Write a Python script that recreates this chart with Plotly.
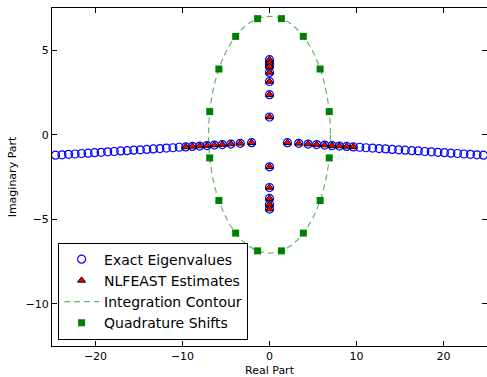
import plotly.graph_objects as go

# Exact eigenvalues (real, imaginary)
eig_real = [-24.6, -23.85, -23.1, -22.35, -21.6, -20.85, -20.1, -19.35, -18.6, -17.85,
            -17.1, -16.35, -15.6, -14.85, -14.1, -13.35, -12.6, -11.85, -11.1, -10.37,
            -9.63, -8.86, -8.03, -7.19, -6.34, -5.42, -4.44, -3.36, -2.06,
            2.06, 3.36, 4.44, 5.42, 6.34, 7.19, 8.03, 8.86, 9.63,
            10.37, 11.1, 11.85, 12.6, 13.35, 14.1, 14.85, 15.6, 16.35, 17.1,
            17.85, 18.6, 19.35, 20.1, 20.85, 21.6, 22.35, 23.1, 23.85, 24.6,
            0, 0, 0, 0, 0, 0, 0, 0, 0, 0, 0, 0]
eig_imag = [-1.21, -1.19, -1.16, -1.14, -1.11, -1.09, -1.06, -1.04, -1.01, -0.99,
            -0.96, -0.94, -0.91, -0.89, -0.87, -0.84, -0.82, -0.79, -0.77, -0.74,
            -0.72, -0.69, -0.67, -0.64, -0.61, -0.58, -0.55, -0.51, -0.47,
            -0.47, -0.51, -0.55, -0.58, -0.61, -0.64, -0.67, -0.69, -0.72,
            -0.74, -0.77, -0.79, -0.82, -0.84, -0.87, -0.89, -0.91, -0.94, -0.96,
            -0.99, -1.01, -1.04, -1.06, -1.09, -1.11, -1.14, -1.16, -1.19, -1.21,
            4.44, 4.24, 4.04, 3.69, 3.15, 2.37, 1.05, -1.9, -3.12, -3.77, -4.12, -4.4]

# NLFEAST estimates
est_real = [-9.63, -8.86, -8.03, -7.19, -6.34, -5.42, -4.44, -3.36, -2.06,
            2.06, 3.36, 4.44, 5.42, 6.34, 7.19, 8.03, 8.86, 9.63,
            0, 0, 0, 0, 0, 0, 0, 0, 0, 0, 0, 0]
est_imag = [-0.72, -0.69, -0.67, -0.64, -0.61, -0.58, -0.55, -0.51, -0.47,
            -0.47, -0.51, -0.55, -0.58, -0.61, -0.64, -0.67, -0.69, -0.72,
            4.44, 4.24, 4.04, 3.69, 3.15, 2.37, 1.05, -1.9, -3.12, -3.77, -4.12, -4.4]

# Integration contour (circle)
contour_center = (0.0, 0.0)
contour_radius = 7.0

# Quadrature shifts
quad_real = [6.87, 5.82, 3.89, 1.37, -1.37, -3.89, -5.82, -6.87,
             -6.87, -5.82, -3.89, -1.37, 1.37, 3.89, 5.82, 6.87]
quad_imag = [1.37, 3.89, 5.82, 6.87, 6.87, 5.82, 3.89, 1.37,
             -1.37, -3.89, -5.82, -6.87, -6.87, -5.82, -3.89, -1.37]

x_ticks = [-20, -10, 0, 10, 20]
y_ticks = [-10, -5, 0, 5]

FONT = "DejaVu Sans"
GREEN = "#008000"
CONTOUR_COLOR = "rgba(0,128,0,0.6)"

fig = go.Figure()
fig.add_trace(go.Scatter(
    x=eig_real, y=eig_imag, mode="markers", name="Exact Eigenvalues",
    marker=dict(symbol="circle-open", size=8, color="#0000ff", line=dict(width=1.2, color="#0000ff")),
))
fig.add_trace(go.Scatter(
    x=est_real, y=est_imag, mode="markers", name="NLFEAST Estimates",
    marker=dict(symbol="triangle-up", size=7, color="#ff0000", line=dict(width=1, color="black")),
))
fig.add_trace(go.Scatter(
    x=[None], y=[None], mode="lines", name="Integration Contour",
    line=dict(color=CONTOUR_COLOR, width=1.2, dash="6px,4px"),
))
fig.add_trace(go.Scatter(
    x=quad_real, y=quad_imag, mode="markers", name="Quadrature Shifts",
    marker=dict(symbol="square", size=7, color=GREEN, line=dict(width=0)),
))

cx, cy = contour_center
fig.add_shape(type="circle", xref="x", yref="y",
              x0=cx - contour_radius, x1=cx + contour_radius,
              y0=cy - contour_radius, y1=cy + contour_radius,
              line=dict(color=CONTOUR_COLOR, width=1.2, dash="6px,4px"),
              layer="below")

axis_common = dict(
    showgrid=False, zeroline=False, showline=True, linecolor="black", linewidth=1,
    mirror="ticks", ticks="inside", ticklen=5, tickcolor="black", tickwidth=1,
    tickfont=dict(family=FONT, size=11, color="black"),
)

fig.update_layout(
    width=487, height=377,
    margin=dict(l=52, r=0, t=8, b=31),
    paper_bgcolor="white", plot_bgcolor="white",
    font=dict(family=FONT, color="black"),
    xaxis=dict(range=[-25, 25], tickvals=x_ticks,
               title=dict(text="Real Part", font=dict(family=FONT, size=11), standoff=4),
               **axis_common),
    yaxis=dict(range=[-12.5, 7.5], tickvals=y_ticks,
               title=dict(text="Imaginary Part", font=dict(family=FONT, size=11), standoff=6),
               **axis_common),
    legend=dict(x=0.014, y=0.019, xanchor="left", yanchor="bottom",
                bordercolor="black", borderwidth=1, bgcolor="white",
                font=dict(family=FONT, size=14, color="black"),
                itemwidth=35, tracegroupgap=0),
    showlegend=True,
)

fig.write_html("out.html")
